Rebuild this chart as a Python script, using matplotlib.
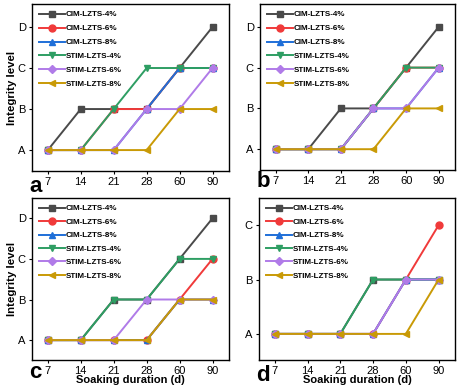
import matplotlib
matplotlib.use("Agg")
import matplotlib.pyplot as plt

plt.rcParams['font.family'] = ['Liberation Sans', 'DejaVu Sans']

days = ['7', '14', '21', '28', '60', '90']
series_names = ['CIM-LZTS-4%', 'CIM-LZTS-6%', 'CIM-LZTS-8%',
                'STIM-LZTS-4%', 'STIM-LZTS-6%', 'STIM-LZTS-8%']
levels_abcd = ['A', 'B', 'C', 'D']
levels_abc = ['A', 'B', 'C']

# levels: A=0, B=1, C=2, D=3
panel_a = [
    [0, 1, 1, 1, 2, 3],
    [0, 0, 1, 1, 2, 2],
    [0, 0, 0, 1, 2, 2],
    [0, 0, 1, 2, 2, 2],
    [0, 0, 0, 1, 1, 2],
    [0, 0, 0, 0, 1, 1],
]
panel_b = [
    [0, 0, 1, 1, 2, 3],
    [0, 0, 0, 1, 2, 2],
    [0, 0, 0, 1, 1, 2],
    [0, 0, 0, 1, 2, 2],
    [0, 0, 0, 1, 1, 2],
    [0, 0, 0, 0, 1, 1],
]
panel_c = [
    [0, 0, 1, 1, 2, 3],
    [0, 0, 0, 0, 1, 2],
    [0, 0, 0, 0, 1, 1],
    [0, 0, 1, 1, 2, 2],
    [0, 0, 0, 1, 1, 1],
    [0, 0, 0, 0, 1, 1],
]
panel_d = [
    [0, 0, 0, 1, 1, 1],
    [0, 0, 0, 0, 1, 2],
    [0, 0, 0, 0, 1, 1],
    [0, 0, 0, 1, 1, 1],
    [0, 0, 0, 0, 1, 1],
    [0, 0, 0, 0, 0, 1],
]

colors = ['#4a4a4a', '#f03a3a', '#1f6fd8', '#2e9e63', '#b07be8', '#c99a06']
markers = ['s', 'o', '^', 'v', 'D', '<']
msizes = [4.5, 5, 5, 5, 4.5, 5]

fig = plt.figure(figsize=(4.66, 3.92), dpi=100)
W, H = 466, 392

def make_ax(x0, y0, x1, y1):
    return fig.add_axes([x0 / W, 1 - y1 / H, (x1 - x0) / W, (y1 - y0) / H])

# (axes, data, levels, ylim, letter, ylabel?, xlabel?, letter baseline px below axes, legend row spacing)
panels = [
    (make_ax(32, 4, 229, 171), panel_a, levels_abcd, (-0.51, 3.56), 'a', True, False, 21, 0.78),
    (make_ax(260, 4, 455, 170), panel_b, levels_abcd, (-0.51, 3.56), 'b', False, False, 17, 0.78),
    (make_ax(32, 198, 229, 360), panel_c, levels_abcd, (-0.49, 3.5), 'c', True, True, 18, 0.72),
    (make_ax(259, 198, 455, 360), panel_d, levels_abc, (-0.48, 2.5), 'd', False, True, 21, 0.72),
]

x = list(range(len(days)))
for ax, data, levs, ylim, letter, ylab, xlab, lpx, lsp in panels:
    for i, name in enumerate(series_names):
        ax.plot(x, data[i], color=colors[i], marker=markers[i], ms=msizes[i],
                lw=1.4, label=name)
    ax.set_xlim(-0.48, 5.5)
    ax.set_ylim(*ylim)
    ax.set_xticks(x)
    ax.set_xticklabels(days)
    ax.set_yticks(range(len(levs)))
    ax.set_yticklabels(levs)
    ax.tick_params(direction='out', length=2.5, width=0.8, labelsize=8, pad=2)
    for s in ax.spines.values():
        s.set_linewidth(1.0)
    leg = ax.legend(loc='upper left', fontsize=5.8, frameon=False,
                    handlelength=3.2, handletextpad=0.1, labelspacing=lsp,
                    borderaxespad=0.45)
    for t in leg.get_texts():
        t.set_fontweight('bold')
    if ylab:
        ax.set_ylabel('Integrity level', fontsize=8.2, fontweight='bold', labelpad=0.5)
    if xlab:
        ax.set_xlabel('Soaking duration (d)', fontsize=8, fontweight='bold', labelpad=-1)
    bbox = ax.get_position()
    hpx = bbox.height * H
    wpx = bbox.width * W
    ax.text(-3 / wpx, -lpx / hpx, letter, transform=ax.transAxes, fontsize=16,
            fontweight='bold', ha='left', va='baseline')

fig.savefig('out.png', dpi=100)
